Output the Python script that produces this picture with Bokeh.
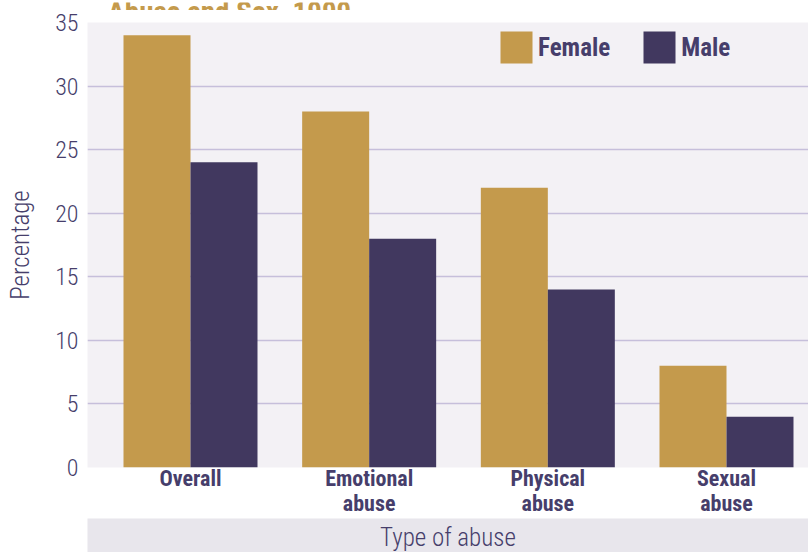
from bokeh.plotting import figure
from bokeh.models import Range1d, FixedTicker, Legend, LegendItem, ColumnDataSource
from bokeh.layouts import column
from bokeh.embed import file_html
from bokeh.resources import INLINE
from bokeh.core.properties import value

categories = ["Overall", "Emotional abuse", "Physical abuse", "Sexual abuse"]
tick_labels = ["Overall", "Emotional\nabuse", "Physical\nabuse", "Sexual\nabuse"]
female = [34, 28, 22, 8]
male = [24, 18, 14, 4]
y_ticks = [0, 5, 10, 15, 20, 25, 30, 35]
title_text = "Abuse and Sex, 1999"
y_label = "Percentage"
x_label = "Type of abuse"

FONT_B = "Roboto Condensed, DejaVu Sans Condensed"
FONT_L = "Roboto Condensed Light, Roboto Condensed, DejaVu Sans Condensed"
GOLD = "#C49A4C"
PURPLE = "#41385F"
TEXT = "#463E6B"
BG = "#F3F1F5"
GRID = "#C6BFDB"
BAND = "#E8E6EC"
W = 808

idx = list(range(len(categories)))
bw = 0.375
src = ColumnDataSource(dict(
    xf=[i - bw / 2 for i in idx],
    xm=[i + bw / 2 for i in idx],
    female=female, male=male))

# strip holding the (cut-off) title line; its frame is aligned with the chart frame (87..808)
p0 = figure(width=W, height=10, x_range=Range1d(87, W), y_range=Range1d(0, 10),
            output_backend="svg", toolbar_location=None,
            x_axis_location=None, y_axis_location=None,
            min_border_left=0, min_border_right=0, min_border_top=0, min_border_bottom=0)
p0.background_fill_color = "white"
p0.border_fill_color = "white"
p0.outline_line_color = None
p0.grid.visible = False
p0.text(x=[107], y=[1], text=[title_text], text_font=value(FONT_B), text_font_style="bold",
        text_font_size="29px", text_color=GOLD, text_align="left", text_baseline="alphabetic")

p = figure(width=W, height=520, x_range=Range1d(-0.5765, 3.459), y_range=Range1d(0, 35),
           output_backend="svg", toolbar_location=None,
           min_border_left=87, min_border_right=0, min_border_top=12, min_border_bottom=63)
p.background_fill_color = BG
p.border_fill_color = "white"
p.outline_line_color = None
p.xgrid.visible = False
p.ygrid.ticker = FixedTicker(ticks=y_ticks)
p.ygrid.grid_line_color = GRID
p.ygrid.grid_line_width = 1.5

ya = p.yaxis[0]
ya.ticker = FixedTicker(ticks=y_ticks)
ya.major_tick_line_color = None
ya.minor_tick_line_color = None
ya.axis_line_color = None
ya.major_label_text_font = FONT_L
ya.major_label_text_font_size = "24px"
ya.major_label_text_color = TEXT
ya.major_label_standoff = 3
ya.axis_label = y_label
ya.axis_label_text_font = FONT_L
ya.axis_label_text_font_size = "25px"
ya.axis_label_text_font_style = "normal"
ya.axis_label_text_color = TEXT
ya.axis_label_standoff = 17

xa = p.xaxis[0]
xa.ticker = FixedTicker(ticks=idx)
xa.major_label_overrides = {i: t for i, t in zip(idx, tick_labels)}
xa.major_tick_line_color = None
xa.minor_tick_line_color = None
xa.axis_line_color = None
xa.major_label_text_font = FONT_B
xa.major_label_text_font_size = "22px"
xa.major_label_text_font_style = "bold"
xa.major_label_text_color = TEXT
xa.major_label_text_line_height = 1.0
xa.major_label_standoff = -8

rf = p.vbar(x="xf", top="female", width=bw, bottom=0, source=src, fill_color=GOLD, line_color=None)
rm = p.vbar(x="xm", top="male", width=bw, bottom=0, source=src, fill_color=PURPLE, line_color=None)

legend = Legend(items=[LegendItem(label="Female", renderers=[rf]), LegendItem(label="Male", renderers=[rm])],
                orientation="horizontal", location=(409, 400), glyph_width=40, glyph_height=40,
                label_text_font=FONT_B, label_text_font_style="bold", label_text_font_size="25px",
                label_text_color=TEXT, border_line_color=None, background_fill_alpha=0,
                padding=0, margin=0, spacing=29, label_standoff=2)
p.add_layout(legend)

p2 = figure(width=W, height=34, x_range=Range1d(0, 1), y_range=Range1d(0, 1),
            output_backend="svg", toolbar_location=None,
            x_axis_location=None, y_axis_location=None,
            min_border_left=84, min_border_right=0, min_border_top=0, min_border_bottom=0,
            styles={"margin-top": "-12px"})
p2.background_fill_color = BAND
p2.border_fill_color = "white"
p2.outline_line_color = None
p2.grid.visible = False
p2.text(x=[0.5], y=[0.45], text=[x_label], text_font=value(FONT_L), text_font_size="25px",
        text_color=TEXT, text_align="center", text_baseline="middle")

layout = column(p0, p, p2, spacing=0)

open("out.html", "w").write(file_html(layout, INLINE))
